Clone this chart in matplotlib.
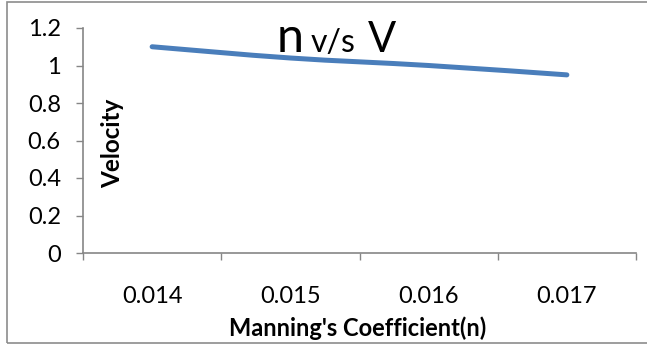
import numpy as np
import matplotlib.pyplot as plt
from matplotlib.path import Path
from matplotlib.patches import PathPatch, Rectangle

plt.rcParams['font.family'] = ['Lato', 'DejaVu Sans']

# Manning's n against flow velocity
n_values = ['0.014', '0.015', '0.016', '0.017']
velocity = [1.10, 1.04, 1.00, 0.95]

W, H = 647, 345
fig = plt.figure(figsize=(W / 100, H / 100), dpi=100)
ax = fig.add_axes([83 / W, (H - 253) / H, (636 - 83) / W, (253 - 28) / H])

AXIS_GREY = '#868686'
LINE_BLUE = '#4a7ebb'

# smoothed line (Bezier through the points, like a spreadsheet "smooth line")
x = np.arange(len(velocity), dtype=float)
y = np.array(velocity)
verts = [(x[0], y[0])]
codes = [Path.MOVETO]
for i in range(len(x) - 1):
    p0 = np.array([x[max(i - 1, 0)], y[max(i - 1, 0)]])
    p1 = np.array([x[i], y[i]])
    p2 = np.array([x[i + 1], y[i + 1]])
    p3 = np.array([x[min(i + 2, len(x) - 1)], y[min(i + 2, len(x) - 1)]])
    c1 = p1 + (p2 - p0) / 6
    c2 = p2 - (p3 - p1) / 6
    verts += [tuple(c1), tuple(c2), tuple(p2)]
    codes += [Path.CURVE4] * 3
ax.add_patch(PathPatch(Path(verts, codes), fill=False, edgecolor=LINE_BLUE,
                       lw=3.6, capstyle='round', joinstyle='round'))

ax.set_xlim(-0.5, len(n_values) - 0.5)
ax.set_ylim(0, 1.2)
ax.set_yticks(np.arange(0, 1.21, 0.2))
ax.set_yticklabels(['0', '0.2', '0.4', '0.6', '0.8', '1', '1.2'])

# category boundaries get the tick marks, labels sit in between
ax.set_xticks(np.arange(-0.5, len(n_values), 1.0))
ax.set_xticklabels([])
ax.set_xticks(x, minor=True)
ax.set_xticklabels(n_values, minor=True)
ax.tick_params(axis='x', which='minor', length=0, pad=24, labelsize=17)
ax.tick_params(axis='x', which='major', length=5, width=1, color=AXIS_GREY, direction='out')
ax.tick_params(axis='y', length=5, width=1, color=AXIS_GREY, direction='out', pad=11, labelsize=17)

for side in ['top', 'right']:
    ax.spines[side].set_visible(False)
for side in ['left', 'bottom']:
    ax.spines[side].set_color(AXIS_GREY)
    ax.spines[side].set_linewidth(1.2)

# title in three pieces of differing size
fig.text(277 / W, (H - 52) / H, 'n', fontsize=35, ha='left', va='baseline')
fig.text(311 / W, (H - 52) / H, 'v/s', fontsize=23, ha='left', va='baseline')
fig.text(368 / W, (H - 52) / H, 'V', fontsize=30, ha='left', va='baseline')

fig.text(113 / W, (H - 143) / H, 'Velocity', fontsize=17.5, fontweight='bold',
         rotation=90, ha='center', va='center')
fig.text(358 / W, (H - 328) / H, "Manning's Coefficient(n)", fontsize=17,
         fontweight='bold', ha='center', va='center')

# chart border
fig.patches.append(Rectangle((7 / W, 2 / H), 1.0, (341) / H, transform=fig.transFigure,
                             fill=False, edgecolor='#8c8c8c', lw=1.2))

fig.savefig('out.png', dpi=100)
